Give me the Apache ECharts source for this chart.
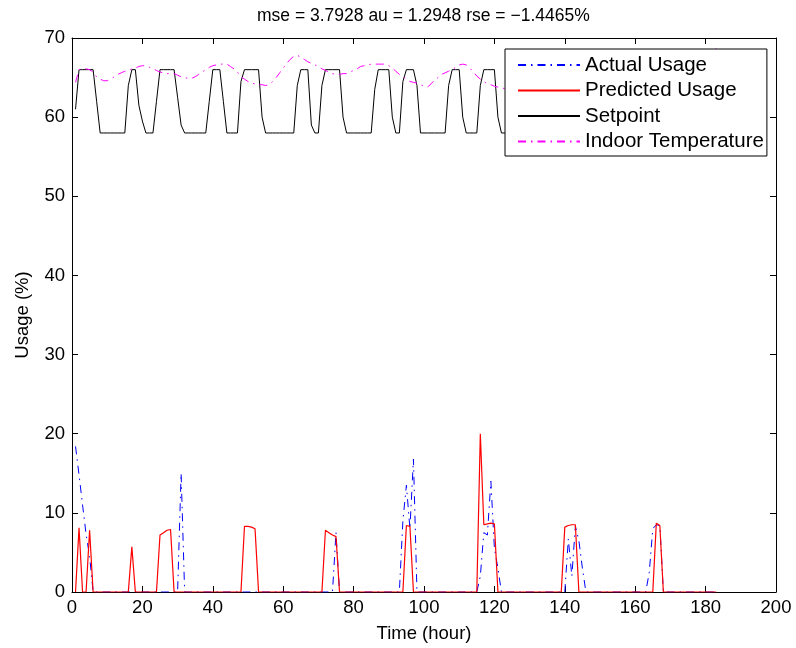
<!DOCTYPE html>
<html>
<head>
<meta charset="utf-8">
<script src="https://cdn.jsdelivr.net/npm/echarts@6/dist/echarts.min.js"></script>
<style>
html,body{margin:0;padding:0;background:#fff;}
#chart{width:796px;height:648px;}
</style>
</head>
<body>
<div id="chart"></div>
<script>
// Time axis ticks
const xTicks = [0, 20, 40, 60, 80, 100, 120, 140, 160, 180, 200];
const yTicks = [0, 10, 20, 30, 40, 50, 60, 70];

// Hourly values, hour 1 .. 183
const actualUsage = [
  18.4, 14.8, 11.0, 7.3, 4.5, 0, 0, 0, 0, 0,
  0, 0, 0, 0, 0, 0, 0, 0, 0, 0,
  0, 0, 0, 0, 0, 0, 0, 0, 0, 0,
  15, 0, 0, 0, 0, 0, 0, 0, 0, 0,
  0, 0, 0, 0, 0, 0, 0, 0, 0, 0,
  0, 0, 0, 0, 0, 0, 0, 0, 0, 0,
  0, 0, 0, 0, 0, 0, 0, 0, 0, 0,
  0, 0, 0, 0, 7.5, 0, 0, 0, 0, 0,
  0, 0, 0, 0, 0, 0, 0, 0, 0, 0,
  0, 0, 0, 9, 13.5, 8, 16.8, 0, 0, 0,
  0, 0, 0, 0, 0, 0, 0, 0, 0, 0,
  0, 0, 0, 0, 0, 2, 7.5, 7.2, 14, 5.5,
  3, 0, 0, 0, 0, 0, 0, 0, 0, 0,
  0, 0, 0, 0, 0, 0, 0, 0, 0, 0,
  6.7, 2, 8.3, 6.5, 3, 0, 0, 0, 0, 0,
  0, 0, 0, 0, 0, 0, 0, 0, 0, 0,
  0, 0, 0, 2.5, 8, 8.5, 8.4, 0, 0, 0,
  0, 0, 0, 0, 0, 0, 0, 0, 0, 0,
  0, 0, 0
];

const predictedUsage = [
  0, 8.1, 0, 0, 7.8, 0, 0, 0, 0, 0,
  0, 0, 0, 0, 0, 0, 5.7, 0, 0, 0,
  0, 0, 0, 0, 7.2, 7.5, 7.8, 7.9, 0, 0,
  0, 0, 0, 0, 0, 0, 0, 0, 0, 0,
  0, 0, 0, 0, 0, 0, 0, 0, 8.3, 8.3,
  8.2, 8.0, 0, 0, 0, 0, 0, 0, 0, 0,
  0, 0, 0, 0, 0, 0, 0, 0, 0, 0,
  0, 7.8, 7.5, 7.2, 7.0, 0, 0, 0, 0, 0,
  0, 0, 0, 0, 0, 0, 0, 0, 0, 0,
  0, 0, 0, 0, 8.4, 8.3, 0, 0, 0, 0,
  0, 0, 0, 0, 0, 0, 0, 0, 0, 0,
  0, 0, 0, 0, 0, 20, 8.5, 8.6, 8.7, 8.6,
  0, 0, 0, 0, 0, 0, 0, 0, 0, 0,
  0, 0, 0, 0, 0, 0, 0, 0, 0, 8.2,
  8.4, 8.5, 8.5, 0, 0, 0, 0, 0, 0, 0,
  0, 0, 0, 0, 0, 0, 0, 0, 0, 0,
  0, 0, 0, 0, 0, 8.7, 8.4, 0, 0, 0,
  0, 0, 0, 0, 0, 0, 0, 0, 0, 0,
  0, 0, 0
];

// visible part (rest hidden behind the legend)
const setpoint = [
  61, 66, 66, 66, 66, 66, 62, 58, 58, 58,
  58, 58, 58, 58, 58, 64, 66, 66, 61.5, 59.5,
  58, 58, 58, 62, 66, 66, 66, 66, 66, 62.5,
  59, 58, 58, 58, 58, 58, 58, 58, 62, 66,
  66, 66, 62, 58, 58, 58, 58, 64.5, 66, 66,
  66, 66, 66, 60, 58, 58, 58, 58, 58, 58,
  58, 58, 58, 64, 66, 66, 66, 59, 58, 58,
  64, 66, 66, 66, 66, 66, 60, 58, 58, 58,
  58, 58, 58, 58, 58, 63.5, 66, 66, 66, 66,
  60, 58, 58, 64.5, 66, 66, 66, 64, 58, 58,
  58, 58, 58, 58, 58, 58, 64, 66, 66, 66,
  60, 58, 58, 58, 58, 64, 66, 66, 66, 66,
  60, 58, 58, 58
];

const indoorTemp = [
  64.4, 66.0, 66.1, 66.1, 66.0, 65.7, 65.1, 64.8, 64.6, 64.6,
  64.8, 65.1, 65.4, 65.6, 65.8, 65.9, 66.1, 66.2, 66.4, 66.5,
  66.5, 66.3, 66.1, 65.9, 65.7, 65.6, 65.5, 65.5, 65.5, 65.3,
  65.1, 65.0, 64.9, 64.9, 65.1, 65.4, 65.7, 66.0, 66.3, 66.5,
  66.6, 66.7, 66.7, 66.7, 66.4, 66.1, 65.7, 65.1, 64.8, 64.5,
  64.3, 64.2, 64.1, 64.1, 64.0, 64.1, 64.5, 65.0, 65.6, 66.2,
  66.8, 67.3, 67.7, 67.8, 67.6, 67.3, 67.0, 66.8, 66.6, 66.4,
  66.1, 65.9, 65.7, 65.5, 65.4, 65.4, 65.5, 65.5, 65.7, 65.9,
  66.1, 66.4, 66.5, 66.6, 66.7, 66.7, 66.7, 66.7, 66.7, 66.5,
  66.2, 65.8, 65.4, 65.1, 64.8, 64.5, 64.4, 64.3, 64.1, 63.9,
  63.8, 64.2, 64.7, 65.0, 65.4, 65.6, 65.8, 66.0, 66.3, 66.6,
  66.7, 66.6, 66.2, 65.7, 65.2, 64.8, 64.5, 64.2, 64.1, 63.9,
  63.8, 63.7, 63.6
];
// last visible piece of indoor temperature above the legend (hours 182, 183)
const indoorTempEndHours = [182, 183];
const indoorTempEnd = [68.2, 68.7];

function pairs(values, startHour) {
  return values.map((v, i) => [startHour + i, v]);
}

const FONT = '"Liberation Sans", Arial, Helvetica, sans-serif';
const chart = echarts.init(document.getElementById('chart'), null, {renderer: 'canvas'});

const indoorData = pairs(indoorTemp, 1);
indoorData.push([indoorTempEndHours[0] - 1, null]);
indoorTempEndHours.forEach((h, i) => indoorData.push([h, indoorTempEnd[i]]));

const dashDot = [8, 5, 1.5, 5];

function frameAxis(extra) {
  return Object.assign({
    type: 'value',
    axisLine: {show: true, onZero: false, lineStyle: {color: '#000', width: 1}},
    axisTick: {show: true, inside: true, length: 6, lineStyle: {color: '#000'}},
    splitLine: {show: false}
  }, extra);
}

const option = {
  backgroundColor: '#fff',
  animation: false,
  title: {
    text: 'mse = 3.7928 au = 1.2948 rse = \u22121.4465%',
    left: 257,
    top: 7,
    padding: 0,
    textStyle: {fontFamily: FONT, fontSize: 17.5, fontWeight: 'normal', color: '#000'}
  },
  grid: {left: 72, top: 38, width: 704, height: 555, containLabel: false},
  legend: {
    orient: 'vertical',
    left: 505,
    top: 49,
    padding: [5.5, 3, 4, 12],
    itemGap: 4.5,
    itemWidth: 62,
    itemHeight: 14,
    backgroundColor: '#fff',
    borderColor: '#000',
    borderWidth: 1,
    borderRadius: 0,
    itemStyle: {opacity: 0},
    textStyle: {fontFamily: FONT, fontSize: 20.5, color: '#000', lineHeight: 20},
    data: ['Actual Usage', 'Predicted Usage', 'Setpoint', 'Indoor Temperature']
  },
  xAxis: [
    frameAxis({
      position: 'bottom',
      min: xTicks[0], max: xTicks[xTicks.length - 1], interval: xTicks[1] - xTicks[0],
      name: 'Time (hour)', nameLocation: 'middle', nameGap: 32,
      nameTextStyle: {fontFamily: FONT, fontSize: 18.5, color: '#000'},
      axisLabel: {fontFamily: FONT, fontSize: 18.5, color: '#000', margin: 6}
    }),
    frameAxis({
      position: 'top',
      min: xTicks[0], max: xTicks[xTicks.length - 1], interval: xTicks[1] - xTicks[0],
      axisLabel: {show: false}
    })
  ],
  yAxis: [
    frameAxis({
      position: 'left',
      min: yTicks[0], max: yTicks[yTicks.length - 1], interval: yTicks[1] - yTicks[0],
      name: 'Usage (%)', nameLocation: 'middle', nameGap: 40,
      nameTextStyle: {fontFamily: FONT, fontSize: 18.5, color: '#000'},
      axisLabel: {fontFamily: FONT, fontSize: 18.5, color: '#000', margin: 7}
    }),
    frameAxis({
      position: 'right',
      min: yTicks[0], max: yTicks[yTicks.length - 1], interval: yTicks[1] - yTicks[0],
      axisLabel: {show: false}
    })
  ],
  series: [
    {
      name: 'Actual Usage', type: 'line', xAxisIndex: 0, yAxisIndex: 0,
      data: pairs(actualUsage, 1), showSymbol: false, symbol: 'none',
      lineStyle: {color: '#0000ff', width: 1, type: dashDot},
      itemStyle: {color: '#0000ff'}
    },
    {
      name: 'Predicted Usage', type: 'line', xAxisIndex: 0, yAxisIndex: 0,
      data: pairs(predictedUsage, 1), showSymbol: false, symbol: 'none',
      lineStyle: {color: '#ff0000', width: 1.2, type: 'solid'},
      itemStyle: {color: '#ff0000'}
    },
    {
      name: 'Setpoint', type: 'line', xAxisIndex: 0, yAxisIndex: 0,
      data: pairs(setpoint, 1), showSymbol: false, symbol: 'none',
      lineStyle: {color: '#000000', width: 1, type: 'solid'},
      itemStyle: {color: '#000000'}
    },
    {
      name: 'Indoor Temperature', type: 'line', xAxisIndex: 0, yAxisIndex: 0,
      data: indoorData, showSymbol: false, symbol: 'none', connectNulls: false,
      lineStyle: {color: '#ff00ff', width: 1, type: dashDot},
      itemStyle: {color: '#ff00ff'}
    }
  ]
};
chart.setOption(option);
</script>
</body>
</html>
